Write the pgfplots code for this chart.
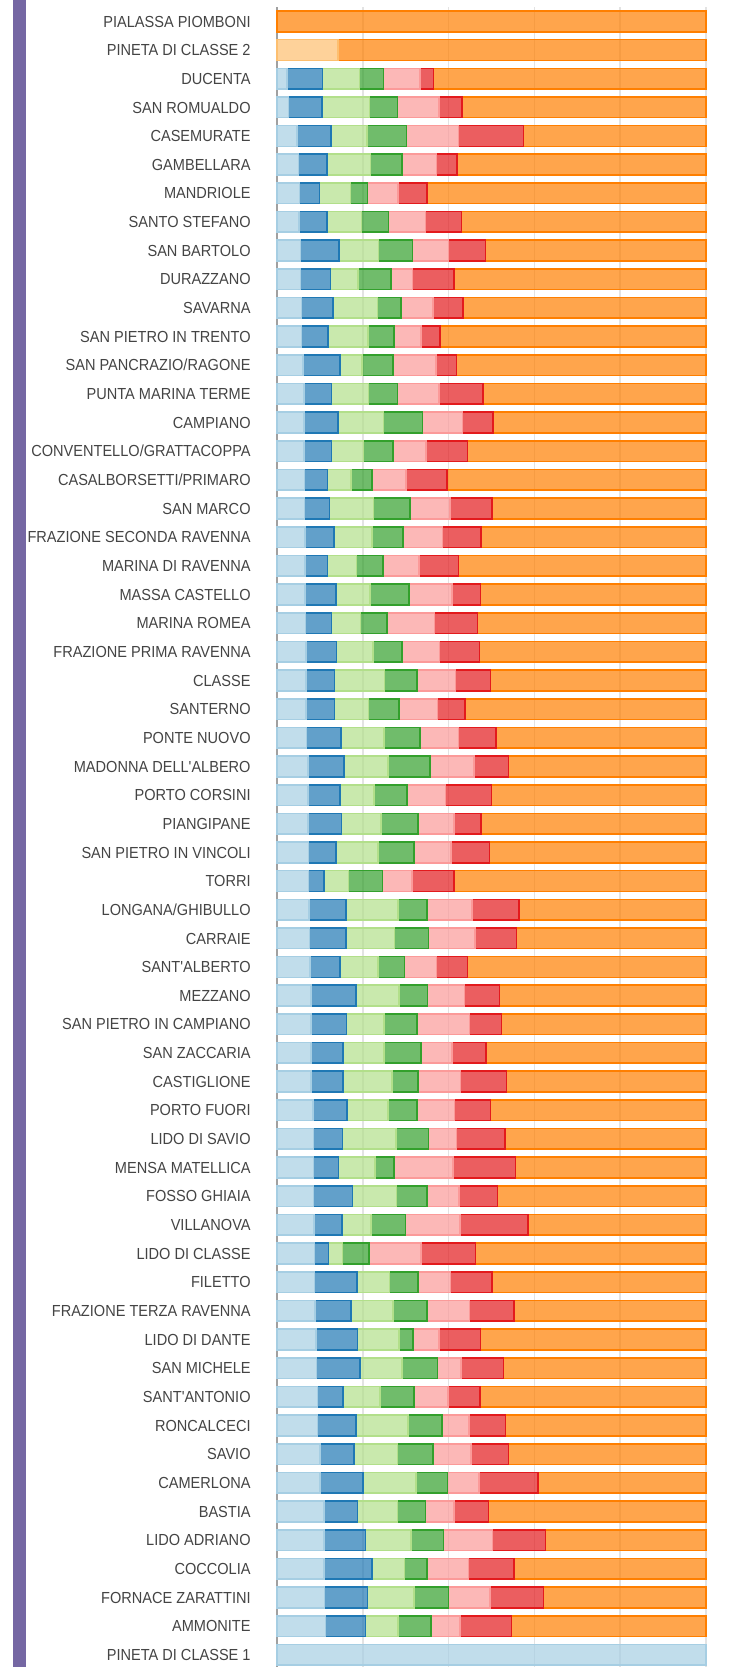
\documentclass[border=0pt]{standalone}
\usepackage{fontspec}
\setmainfont{Liberation Sans}[FakeStretch=0.91, Ligatures=TeXOff]
\usepackage{pgfplots}
\usepackage{pgfplotstable}
\pgfplotsset{compat=1.18}

\definecolor{clb}{HTML}{A6CEE3}
\definecolor{cbl}{HTML}{1F78B4}
\definecolor{clg}{HTML}{B2DF8A}
\definecolor{cgr}{HTML}{33A02C}
\definecolor{cpk}{HTML}{FB9A99}
\definecolor{crd}{HTML}{E31A1C}
\definecolor{clo}{HTML}{FDBF6F}
\definecolor{cor}{HTML}{FF7F00}
\definecolor{sidebar}{RGB}{117,103,163}
\definecolor{gridgray}{HTML}{E3E3E3}
\definecolor{axisgray}{HTML}{A0A0A0}
\definecolor{labelgray}{HTML}{444444}

% shares per zone, in percent (row 57 is plotted on its own)
\pgfplotstableread{
idx lb b lg g pk r lo o
0 0 0 0 0 0 0 0 100
1 0 0 0 0 0 0 14.2 85.8
2 2.4 8.2 8.6 5.6 8.6 3.1 0 63.5
3 2.7 7.8 11.1 6.5 9.6 5.4 0 56.9
4 4.7 7.9 8.4 9.2 12.1 15.2 0 42.5
5 5.0 6.6 10.2 7.3 8.1 4.8 0 58.0
6 5.2 4.7 7.2 4.0 7.1 6.8 0 65.0
7 5.1 6.5 8.1 6.3 8.6 8.4 0 57.0
8 5.5 8.9 9.3 7.9 8.4 8.6 0 51.4
9 5.5 7.0 6.4 7.7 5.0 9.7 0 58.7
10 5.7 7.4 10.3 5.5 7.5 7.0 0 56.6
11 5.7 6.2 9.3 6.1 6.3 4.4 0 62.0
12 6.0 8.7 5.1 7.2 10.0 4.8 0 58.2
13 6.3 6.4 8.6 6.8 9.6 10.3 0 52.0
14 6.3 7.9 10.6 9.1 9.3 7.2 0 49.6
15 6.3 6.4 7.5 6.8 7.7 9.7 0 55.6
16 6.4 5.4 5.4 5.0 7.9 9.5 0 60.4
17 6.4 5.8 10.3 8.5 9.3 9.8 0 49.9
18 6.5 6.8 8.9 7.2 9.2 9.0 0 52.4
19 6.5 5.3 6.7 6.2 8.4 9.2 0 57.7
20 6.5 7.2 8.0 9.1 10.0 6.6 0 52.6
21 6.6 6.1 6.8 6.2 11.0 10.0 0 53.3
22 6.7 7.2 8.5 6.8 8.7 9.3 0 52.8
23 6.7 6.7 11.7 7.6 8.9 8.2 0 50.2
24 6.8 6.6 7.9 7.2 8.9 6.4 0 56.2
25 6.9 8.0 10.0 8.4 9.0 8.7 0 49.0
26 7.2 8.4 10.3 9.7 10.3 8.1 0 46.0
27 7.2 7.5 7.9 7.7 9.0 10.7 0 50.0
28 7.2 7.8 9.3 8.5 8.4 6.4 0 52.4
29 7.3 6.5 9.7 8.5 8.6 8.9 0 50.5
30 7.3 3.7 5.7 7.9 6.9 9.7 0 58.8
31 7.5 8.6 12.1 6.7 10.6 10.9 0 43.6
32 7.6 8.5 11.3 7.9 10.8 9.7 0 44.2
33 7.7 7.0 8.8 6.2 7.5 7.2 0 55.6
34 7.9 10.5 10.0 6.7 8.6 8.2 0 48.1
35 7.9 8.3 8.8 7.6 12.3 7.4 0 47.7
36 7.9 7.5 9.5 8.7 7.2 7.9 0 51.3
37 7.9 7.5 11.4 6.1 9.9 10.7 0 46.5
38 8.4 7.9 9.6 6.8 8.7 8.4 0 50.2
39 8.5 6.8 12.4 7.6 6.5 11.4 0 46.8
40 8.5 5.8 8.6 4.4 13.7 14.6 0 44.4
41 8.5 9.1 10.3 7.1 7.4 9.0 0 48.6
42 8.6 6.6 6.7 8.1 12.6 15.9 0 41.5
43 8.7 3.3 3.3 6.1 12.1 12.8 0 53.7
44 8.7 10.0 7.5 6.7 7.5 9.7 0 49.9
45 8.9 8.3 9.8 7.9 10.0 10.4 0 44.7
46 9.1 9.7 9.7 3.2 6.0 9.7 0 52.6
47 9.2 10.1 9.9 8.2 5.5 9.9 0 47.2
48 9.4 6.0 8.6 7.9 7.9 7.5 0 52.7
49 9.4 9.0 12.1 8.0 6.2 8.6 0 46.7
50 10.0 7.9 10.2 8.2 8.9 8.8 0 46.0
51 10.0 10.0 12.4 7.3 7.4 13.8 0 39.1
52 10.9 7.9 9.3 6.5 6.7 8.0 0 50.7
53 11.0 9.6 10.7 7.5 11.4 12.4 0 37.4
54 11.0 11.2 7.5 5.3 9.6 10.7 0 44.7
55 11.1 10.0 10.9 8.0 9.6 12.5 0 37.9
56 11.3 9.3 7.6 7.7 6.8 12.0 0 45.3
}\zones

\begin{document}
\begin{tikzpicture}[x=1pt,y=1pt]
\path[use as bounding box] (0,0) rectangle (373.5,-833.5);
\fill[sidebar] (6.5,0) rectangle (13,-833.5);
\begin{axis}[
    at={(138.5pt,-3.5pt)}, anchor=north west,
    scale only axis,
    width=214.5pt, height=831pt,
    xmin=0, xmax=100,
    ymin=-0.5, ymax=57.5,
    y dir=reverse,
    xbar stacked,
    bar width=10.35pt,
    clip=false,
    axis x line*=bottom,
    x axis line style={draw=none},
    axis y line*=left,
    y axis line style={axisgray, line width=0.7pt},
    xtick={0,20,...,100},
    xticklabels={},
    xmajorgrids,
    grid style={gridgray, line width=0.75pt},
    major tick length=0pt,
    ytick={0,...,57},
    yticklabels={PIALASSA PIOMBONI, PINETA DI CLASSE 2, DUCENTA, SAN ROMUALDO,
      CASEMURATE, GAMBELLARA, MANDRIOLE, SANTO STEFANO, SAN BARTOLO, DURAZZANO,
      SAVARNA, SAN PIETRO IN TRENTO, SAN PANCRAZIO/RAGONE, PUNTA MARINA TERME,
      CAMPIANO, CONVENTELLO/GRATTACOPPA, CASALBORSETTI/PRIMARO, SAN MARCO,
      FRAZIONE SECONDA RAVENNA, MARINA DI RAVENNA, MASSA CASTELLO, MARINA ROMEA,
      FRAZIONE PRIMA RAVENNA, CLASSE, SANTERNO, PONTE NUOVO, MADONNA DELL'ALBERO,
      PORTO CORSINI, PIANGIPANE, SAN PIETRO IN VINCOLI, TORRI, LONGANA/GHIBULLO,
      CARRAIE, SANT'ALBERTO, MEZZANO, SAN PIETRO IN CAMPIANO, SAN ZACCARIA,
      CASTIGLIONE, PORTO FUORI, LIDO DI SAVIO, MENSA MATELLICA, FOSSO GHIAIA,
      VILLANOVA, LIDO DI CLASSE, FILETTO, FRAZIONE TERZA RAVENNA, LIDO DI DANTE,
      SAN MICHELE, SANT'ANTONIO, RONCALCECI, SAVIO, CAMERLONA, BASTIA,
      LIDO ADRIANO, COCCOLIA, FORNACE ZARATTINI, AMMONITE, PINETA DI CLASSE 1},
    yticklabel style={font=\fontsize{8}{9}\selectfont, text=labelgray,
      anchor=east, inner sep=0pt, xshift=-13pt, text height=5.7pt, text depth=0pt},
    seg/.style={fill=#1, draw=#1, fill opacity=0.7, line width=0.8pt},
]
\addplot[seg=clb] table[x=lb, y=idx] {\zones};
\addplot[seg=cbl] table[x=b, y=idx] {\zones};
\addplot[seg=clg] table[x=lg, y=idx] {\zones};
\addplot[seg=cgr] table[x=g, y=idx] {\zones};
\addplot[seg=cpk] table[x=pk, y=idx] {\zones};
\addplot[seg=crd] table[x=r, y=idx] {\zones};
\addplot[seg=clo] table[x=lo, y=idx] {\zones};
\addplot[seg=cor] table[x=o, y=idx] {\zones};
\addplot[seg=clb, stack plots=false] coordinates {(100,57)};
\end{axis}
\end{tikzpicture}
\end{document}
